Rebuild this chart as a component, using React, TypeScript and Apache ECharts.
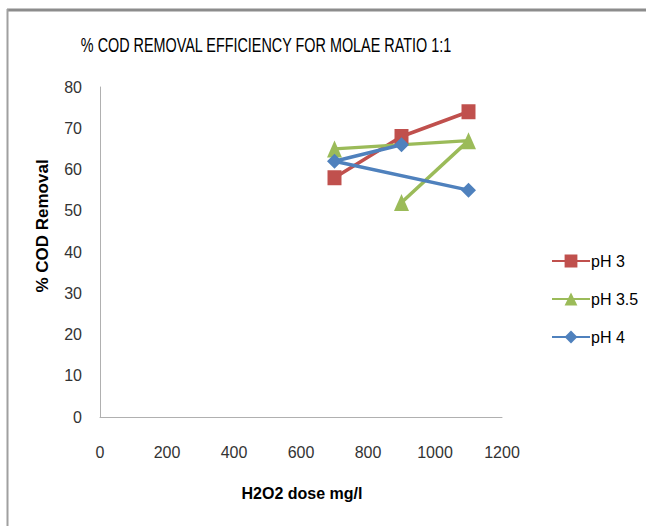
import React, { useEffect, useRef } from "react";
import * as echarts from "echarts";

const pH3: [number, number][] = [[700, 58], [900, 68], [1100, 74]];
const pH35: [number, number][] = [[700, 65], [1100, 67], [900, 52]];
const pH4: [number, number][] = [[900, 66], [700, 62], [1100, 55]];
const seriesNames = ["pH 3", "pH 3.5", "pH 4"];
const colors = ["#C0504D", "#9BBB59", "#4F81BD"];
const titleText = "% COD REMOVAL EFFICIENCY FOR MOLAE RATIO 1:1";
const xName = "H2O2 dose mg/l";
const yName = "% COD Removal";

export default function App() {
  const ref = useRef<HTMLDivElement>(null);
  useEffect(() => {
    const chart = echarts.init(ref.current!, null, { renderer: "svg" });
    const font = "'Liberation Sans', Arial, sans-serif";
    const datasets = [pH3, pH35, pH4];
    const symbols = ["rect", "triangle", "diamond"];
    const sizes: [number, number][] = [[14, 15], [15, 17], [15, 15]];
    chart.setOption({
      animation: false,
      backgroundColor: "#ffffff",
      textStyle: { fontFamily: font },
      grid: { left: 100, right: 144, top: 87, bottom: 109 },
      legend: {
        orient: "vertical",
        left: 546,
        top: 248,
        itemGap: 22,
        itemWidth: 38,
        itemHeight: 16,
        textStyle: { fontSize: 16, color: "#000", fontFamily: font, padding: [0, 0, 0, -4] },
        data: seriesNames,
      },
      xAxis: {
        type: "value",
        min: 0,
        max: 1200,
        interval: 200,
        axisLine: { lineStyle: { color: "#b0b0b0", width: 1 } },
        axisTick: { show: false },
        splitLine: { show: false },
        axisLabel: { fontSize: 16, color: "#333", margin: 27, formatter: (v: number) => String(v) },
      },
      yAxis: {
        type: "value",
        min: 0,
        max: 80,
        interval: 10,
        axisLine: { show: true, lineStyle: { color: "#b0b0b0", width: 1 } },
        axisTick: { show: false },
        splitLine: { show: false },
        axisLabel: { fontSize: 16, color: "#333", margin: 18, formatter: (v: number) => String(v) },
      },
      graphic: [
        { type: "line", shape: { x1: 7, y1: 10, x2: 646, y2: 10 }, style: { stroke: "#8c8c8c", lineWidth: 3 } },
        { type: "line", shape: { x1: 7.5, y1: 9, x2: 7.5, y2: 526 }, style: { stroke: "#a0a0a0", lineWidth: 2 } },
        {
          type: "text",
          x: 266,
          y: 45,
          scaleX: 0.72,
          style: {
            text: titleText,
            fontSize: 20,
            fontFamily: font,
            fill: "#000",
            align: "center",
            verticalAlign: "middle",
          },
        },
        {
          type: "text",
          x: 302,
          y: 493,
          style: {
            text: xName,
            fontSize: 16,
            fontWeight: "bold",
            fontFamily: font,
            fill: "#000",
            align: "center",
            verticalAlign: "middle",
          },
        },
        {
          type: "text",
          x: 42,
          y: 226,
          rotation: Math.PI / 2,
          style: {
            text: yName,
            fontSize: 17,
            fontWeight: "bold",
            fontFamily: font,
            fill: "#000",
            align: "center",
            verticalAlign: "middle",
          },
        },
      ],
      series: datasets.map((d, i) => ({
        name: seriesNames[i],
        type: "line",
        data: d,
        symbol: symbols[i],
        symbolSize: sizes[i],
        itemStyle: { color: colors[i] },
        lineStyle: { color: colors[i], width: 3.5 },
      })),
    });
    return () => chart.dispose();
  }, []);
  return <div ref={ref} style={{ position: "fixed", left: 0, top: 0, width: 646, height: 526 }} />;
}
